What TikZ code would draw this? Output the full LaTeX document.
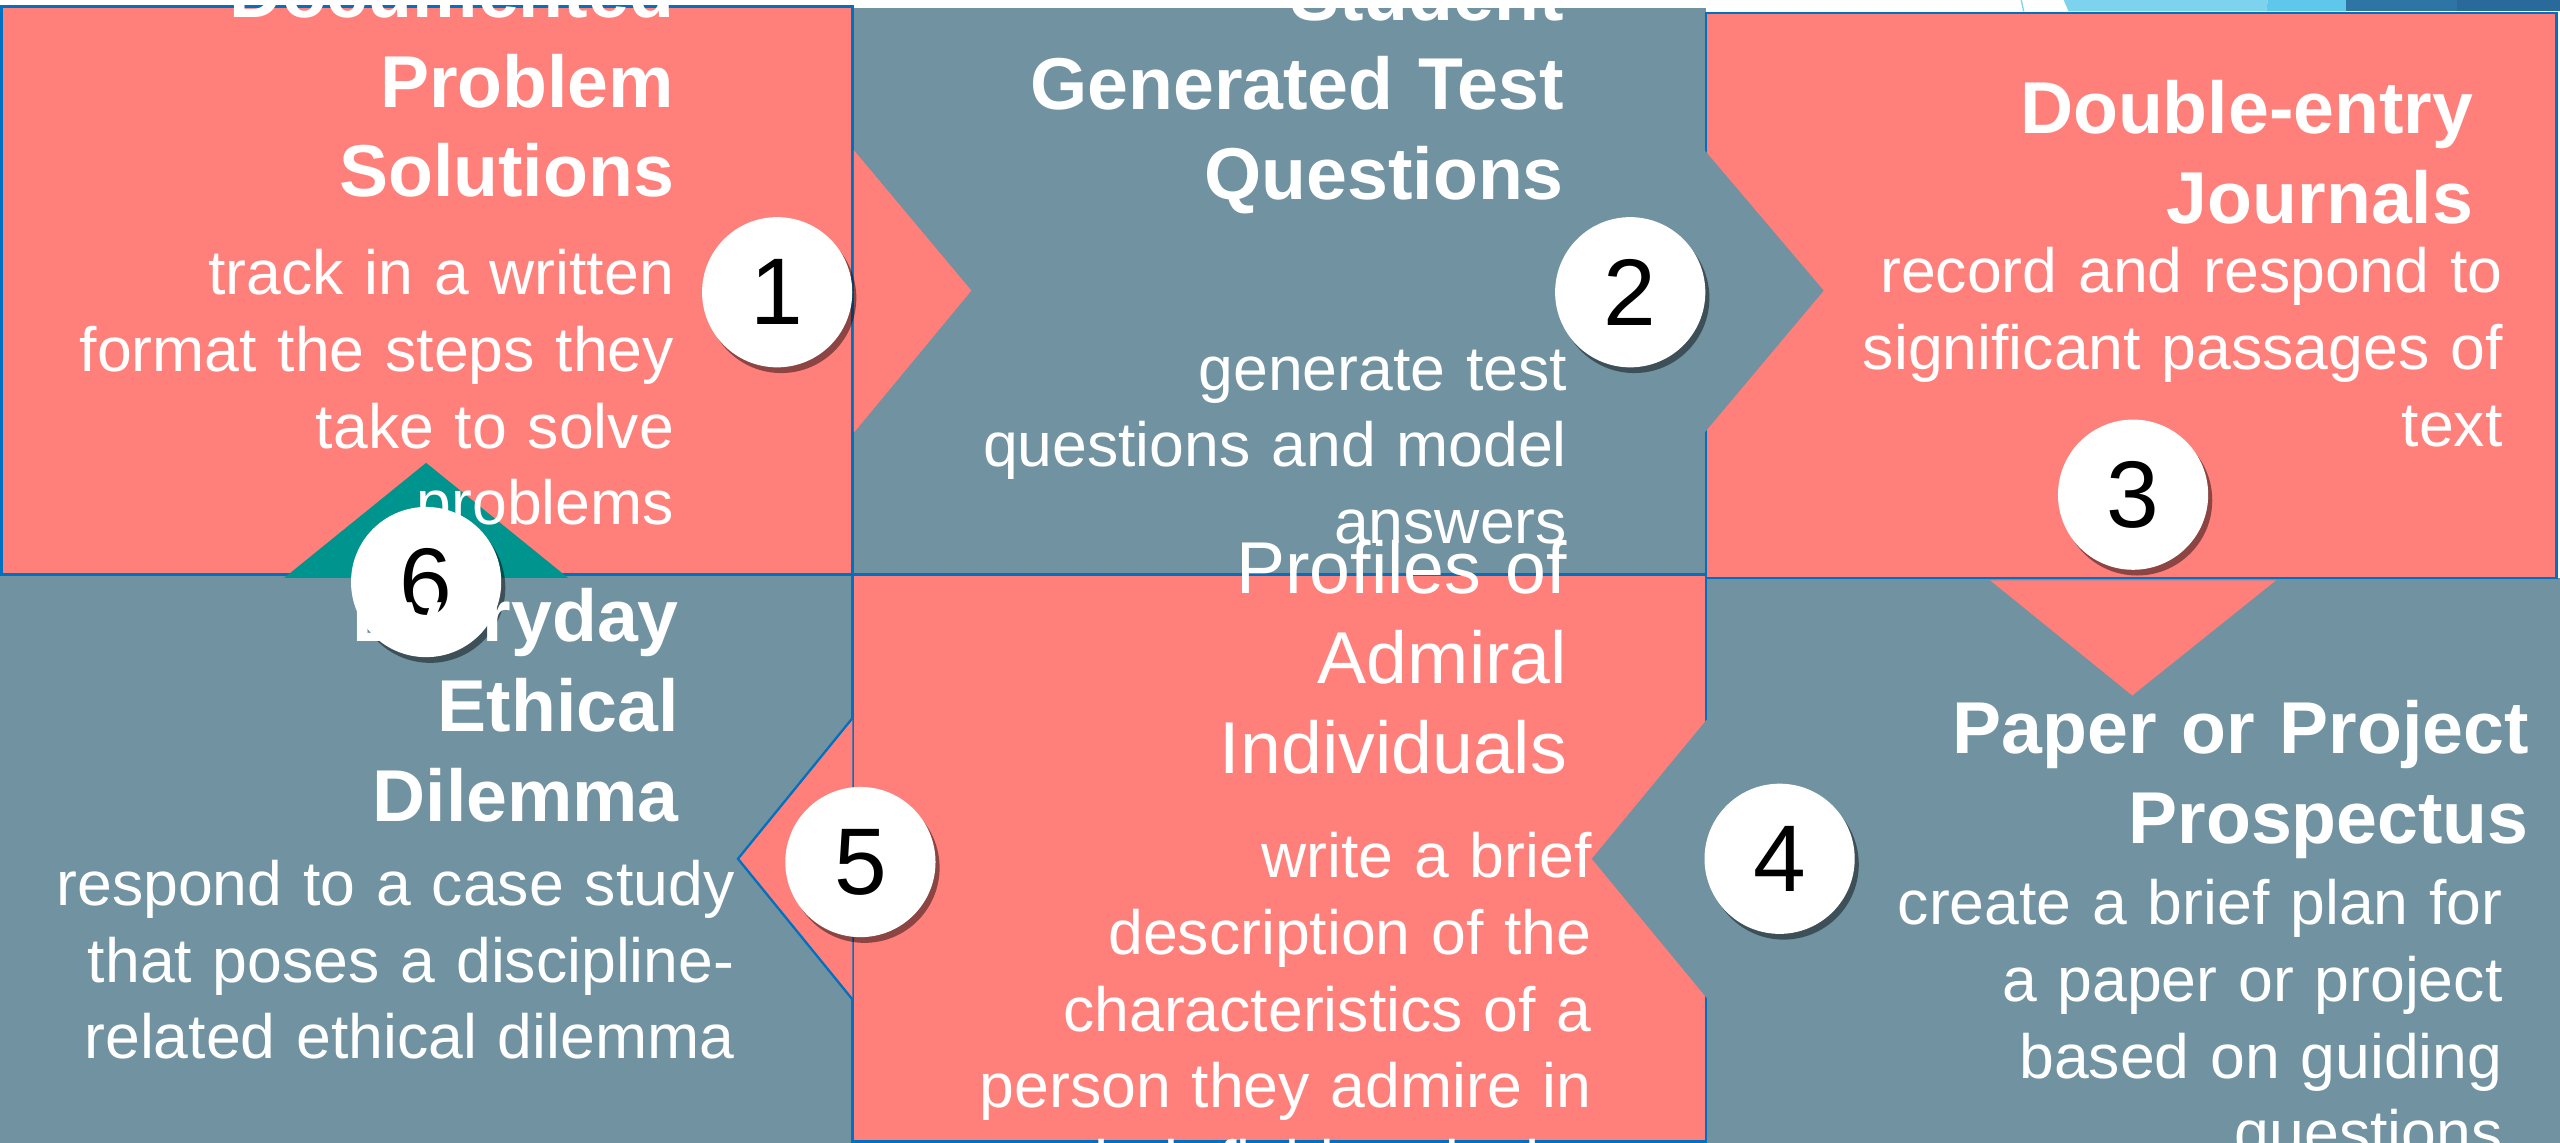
\documentclass[tikz,border=0pt]{standalone}
\usepackage{fontspec}
\setmainfont{Liberation Sans}
\usetikzlibrary{shadows}
\definecolor{salmon}{HTML}{FF7F7A}
\definecolor{slate}{HTML}{7092A1}
\definecolor{tealmark}{HTML}{00948F}
\definecolor{edgeblue}{HTML}{0070C0}
\definecolor{skyA}{HTML}{7DD3EE}
\definecolor{skyB}{HTML}{5FC7EC}
\definecolor{deepA}{HTML}{2E75A5}
\definecolor{deepB}{HTML}{2A6A9B}
\begin{document}
\begin{tikzpicture}[x=1pt,y=-1pt,
  titlebf/.style={anchor=base east, text width=600pt, align=right, inner sep=0pt, text=white,
    font=\fontsize{45}{55}\selectfont\bfseries},
  titlerg/.style={anchor=base east, text width=600pt, align=right, inner sep=0pt, text=white,
    font=\fontsize{45}{55}\selectfont},
  desc/.style={anchor=base east, text width=600pt, align=right, inner sep=0pt, text=white,
    font=\fontsize{38.3}{47}\selectfont},
  num/.style={circle, fill=white, minimum size=92pt, inner sep=0pt, text=black,
    font=\fontsize{58}{60}\selectfont,
    drop shadow={shadow xshift=2.5pt, shadow yshift=-3.5pt, opacity=0.45, fill=black}},
  salmonbox/.style={fill=salmon, draw=edgeblue, line width=1.6pt},
  slatebox/.style={fill=slate},
]
\useasboundingbox (0,0) rectangle (1568,700);
\clip (0,0) rectangle (1568,700);
\fill[white] (0,0) rectangle (1568,700);

% decorative strip, top right
\draw[skyA, line width=0.8pt] (1238,0) -- (1239.5,7);
\fill[skyA] (1264,0) -- (1389,0) -- (1388,7) -- (1267,7) -- cycle;
\fill[skyB] (1389,0) -- (1437,0) -- (1437,7) -- (1388,7) -- cycle;
\fill[deepA] (1437,0) rectangle (1505,7);
\fill[deepB] (1505,0) rectangle (1568,7);

% gray boxes
\fill[slatebox] (522,5) rectangle (1045,352);
\fill[slatebox] (1045,354) rectangle (1568,700);
\fill[slatebox] (0,352) rectangle (522,700);

% salmon boxes
\draw[salmonbox] (1,4) rectangle (522,352);
\draw[salmonbox] (1045,8) rectangle (1566,354);
\draw[salmonbox] (522,352) rectangle (1045,699);

% arrows between boxes
\fill[salmon] (523,92) -- (595,178) -- (523,265) -- cycle;
\fill[slate] (1044,92) -- (1117,178) -- (1044,265) -- cycle;
\fill[salmon] (1219,355.5) -- (1394,355.5) -- (1306,426) -- cycle;
\fill[slate] (1046,440) -- (975,526) -- (1046,612) -- cycle;
\draw[fill=salmon, draw=edgeblue, line width=1.4pt] (522,440) -- (452,526) -- (522,612);
\fill[tealmark] (174,354) -- (348,354) -- (261,283.5) -- cycle;

% texts
\node[titlebf] (t1) at (413,10.6) {Documented\\Problem\\Solutions};
\node[desc] (d1) at (413,180.5) {track in a written\\format the steps they\\take to solve\\problems};

\node[titlebf] (t2) at (958,12.3) {Student\\Generated Test\\Questions};
\node[desc] (d2) at (960,239) {generate test\\questions and model\\answers};

\node[titlebf] (t3) at (1515,82) {Double-entry\\Journals};
\node[desc] (d3) at (1533,179.3) {record and respond to\\significant passages of\\text};

\node[titlebf] (t4) at (1549,461.5) {Paper or Project\\Prospectus};
\node[desc] (d4) at (1533,566.3) {create a brief plan for\\a paper or project\\based on guiding\\questions};

\node[titlerg] (t5) at (960,363.7) {Profiles of\\Admiral\\Individuals};
\node[desc] (d5) at (975,537.6) {write a brief\\description of the\\characteristics of a\\person they admire in\\their field and why};

% numbered circles
\node[num] (n1) at (476,179) {1};
\node[num] (n2) at (998.5,179) {2};
\node[num] (n3) at (1306.5,303) {3};
\node[num] (n4) at (1090,526) {4};
\node[num] (n5) at (527,528) {5};
\node[num] (n6) at (261,356.5) {6};

% box 6 text (printed over circle 6)
\node[titlebf] (t6) at (416,393) {Everyday\\Ethical\\Dilemma};
\node[desc] (d6) at (450,554.5) {respond to a case study\\that poses a discipline-\\related ethical dilemma};
\end{tikzpicture}
\end{document}
